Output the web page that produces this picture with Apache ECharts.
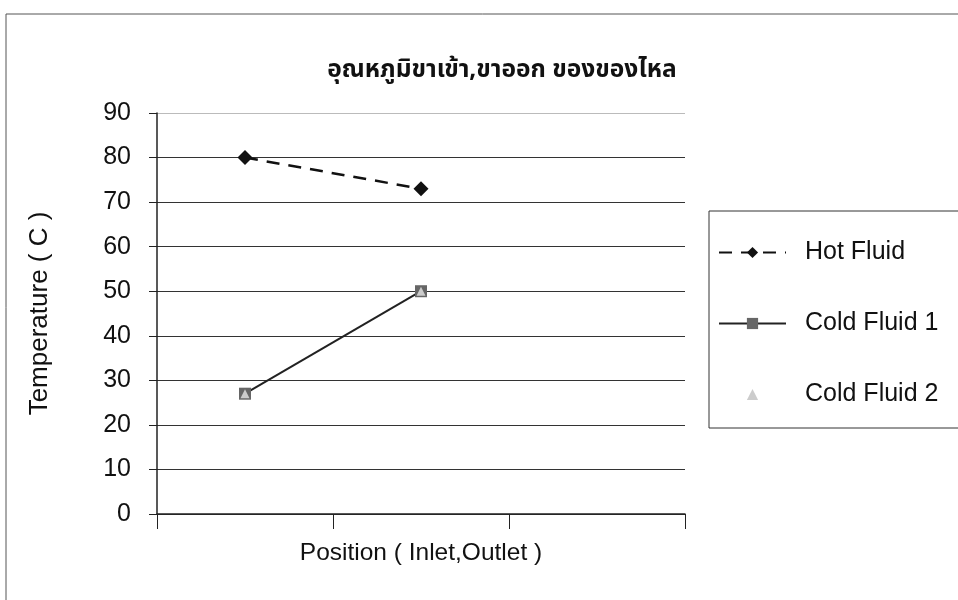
<!DOCTYPE html>
<html><head><meta charset="utf-8">
<script src="https://cdn.jsdelivr.net/npm/echarts@6/dist/echarts.min.js"></script>
<style>html,body{margin:0;padding:0;background:#fff}#c{width:958px;height:600px}</style>
</head><body><div id="c"></div>
<script>
const categories = ['Inlet', 'Outlet', ''];
const hotFluid = [80, 73, null];
const coldFluid1 = [27, 50, null];
const coldFluid2 = [27, 50, null];
const yTicks = [0, 10, 20, 30, 40, 50, 60, 70, 80, 90];
const titleText = 'อุณหภูมิขาเข้า,ขาออก ของของไหล';

const FONT = 'Liberation Sans, Arial, sans-serif';
const chart = echarts.init(document.getElementById('c'));
chart.setOption({
  animation: false,
  backgroundColor: '#fff',
  title: {
    text: titleText, left: 497, top: 53, textAlign: 'center',
    textStyle: { fontFamily: 'Noto Sans, Noto Sans Thai, Loma, DejaVu Sans, sans-serif', fontSize: 24.5, fontWeight: 'bold', color: '#111' }
  },
  graphic: [
    { type: 'rect', shape: { x: 6, y: 14, width: 1000, height: 700 }, style: { fill: 'none', stroke: '#555', lineWidth: 1 }, z: -1 },
    { type: 'rect', shape: { x: 709, y: 211, width: 300, height: 217 }, style: { fill: '#fff', stroke: '#333', lineWidth: 1 }, z: 0 }
  ],
  legend: {
    orient: 'vertical', left: 713, top: 235, itemWidth: 67, itemHeight: 14, itemGap: 46,
    textStyle: { fontFamily: FONT, fontSize: 25, color: '#111', lineHeight: 25, padding: [0, 0, 0, 14] },
    data: ['Hot Fluid', 'Cold Fluid 1', 'Cold Fluid 2'], z: 5
  },
  grid: { left: 157, right: 273, top: 113, bottom: 86, containLabel: false },
  xAxis: {
    type: 'category', data: categories, boundaryGap: true,
    name: 'Position ( Inlet,Outlet )', nameLocation: 'middle', nameGap: 27,
    nameTextStyle: { fontFamily: FONT, fontSize: 24.5, color: '#111', verticalAlign: 'top' },
    axisLine: { lineStyle: { color: '#222', width: 1.5 } },
    axisTick: { show: true, length: 15, interval: 0, lineStyle: { color: '#222' } },
    axisLabel: { show: false }, splitLine: { show: false }
  },
  yAxis: {
    type: 'value', min: 0, max: 90, interval: 10,
    name: 'Temperature ( C )', nameLocation: 'middle', nameGap: 104,
    nameTextStyle: { fontFamily: FONT, fontSize: 26, color: '#111' },
    axisLine: { show: true, lineStyle: { color: '#222', width: 1.5 } },
    axisTick: { show: true, length: 8, lineStyle: { color: '#222' } },
    axisLabel: { fontFamily: FONT, fontSize: 25, color: '#111', margin: 26,
      formatter: v => yTicks.includes(v) ? String(v) : '' },
    splitLine: { show: true, lineStyle: { color: ['#333','#333','#333','#333','#333','#333','#333','#333','#333','#bbb'], width: 1.2 } }
  },
  series: [
    { name: 'Hot Fluid', type: 'line', data: hotFluid, symbol: 'diamond', symbolSize: 15,
      itemStyle: { color: '#111' }, lineStyle: { color: '#111', width: 2.5, type: [13, 9] }, z: 3 },
    { name: 'Cold Fluid 1', type: 'line', data: coldFluid1, symbol: 'rect', symbolSize: 12,
      itemStyle: { color: '#666' }, lineStyle: { color: '#222', width: 2 }, z: 3 },
    { name: 'Cold Fluid 2', type: 'line', data: coldFluid2, symbol: 'triangle', symbolSize: 9,
      itemStyle: { color: '#ccc' }, lineStyle: { width: 0, opacity: 0 }, z: 4 }
  ]
});
</script></body></html>
